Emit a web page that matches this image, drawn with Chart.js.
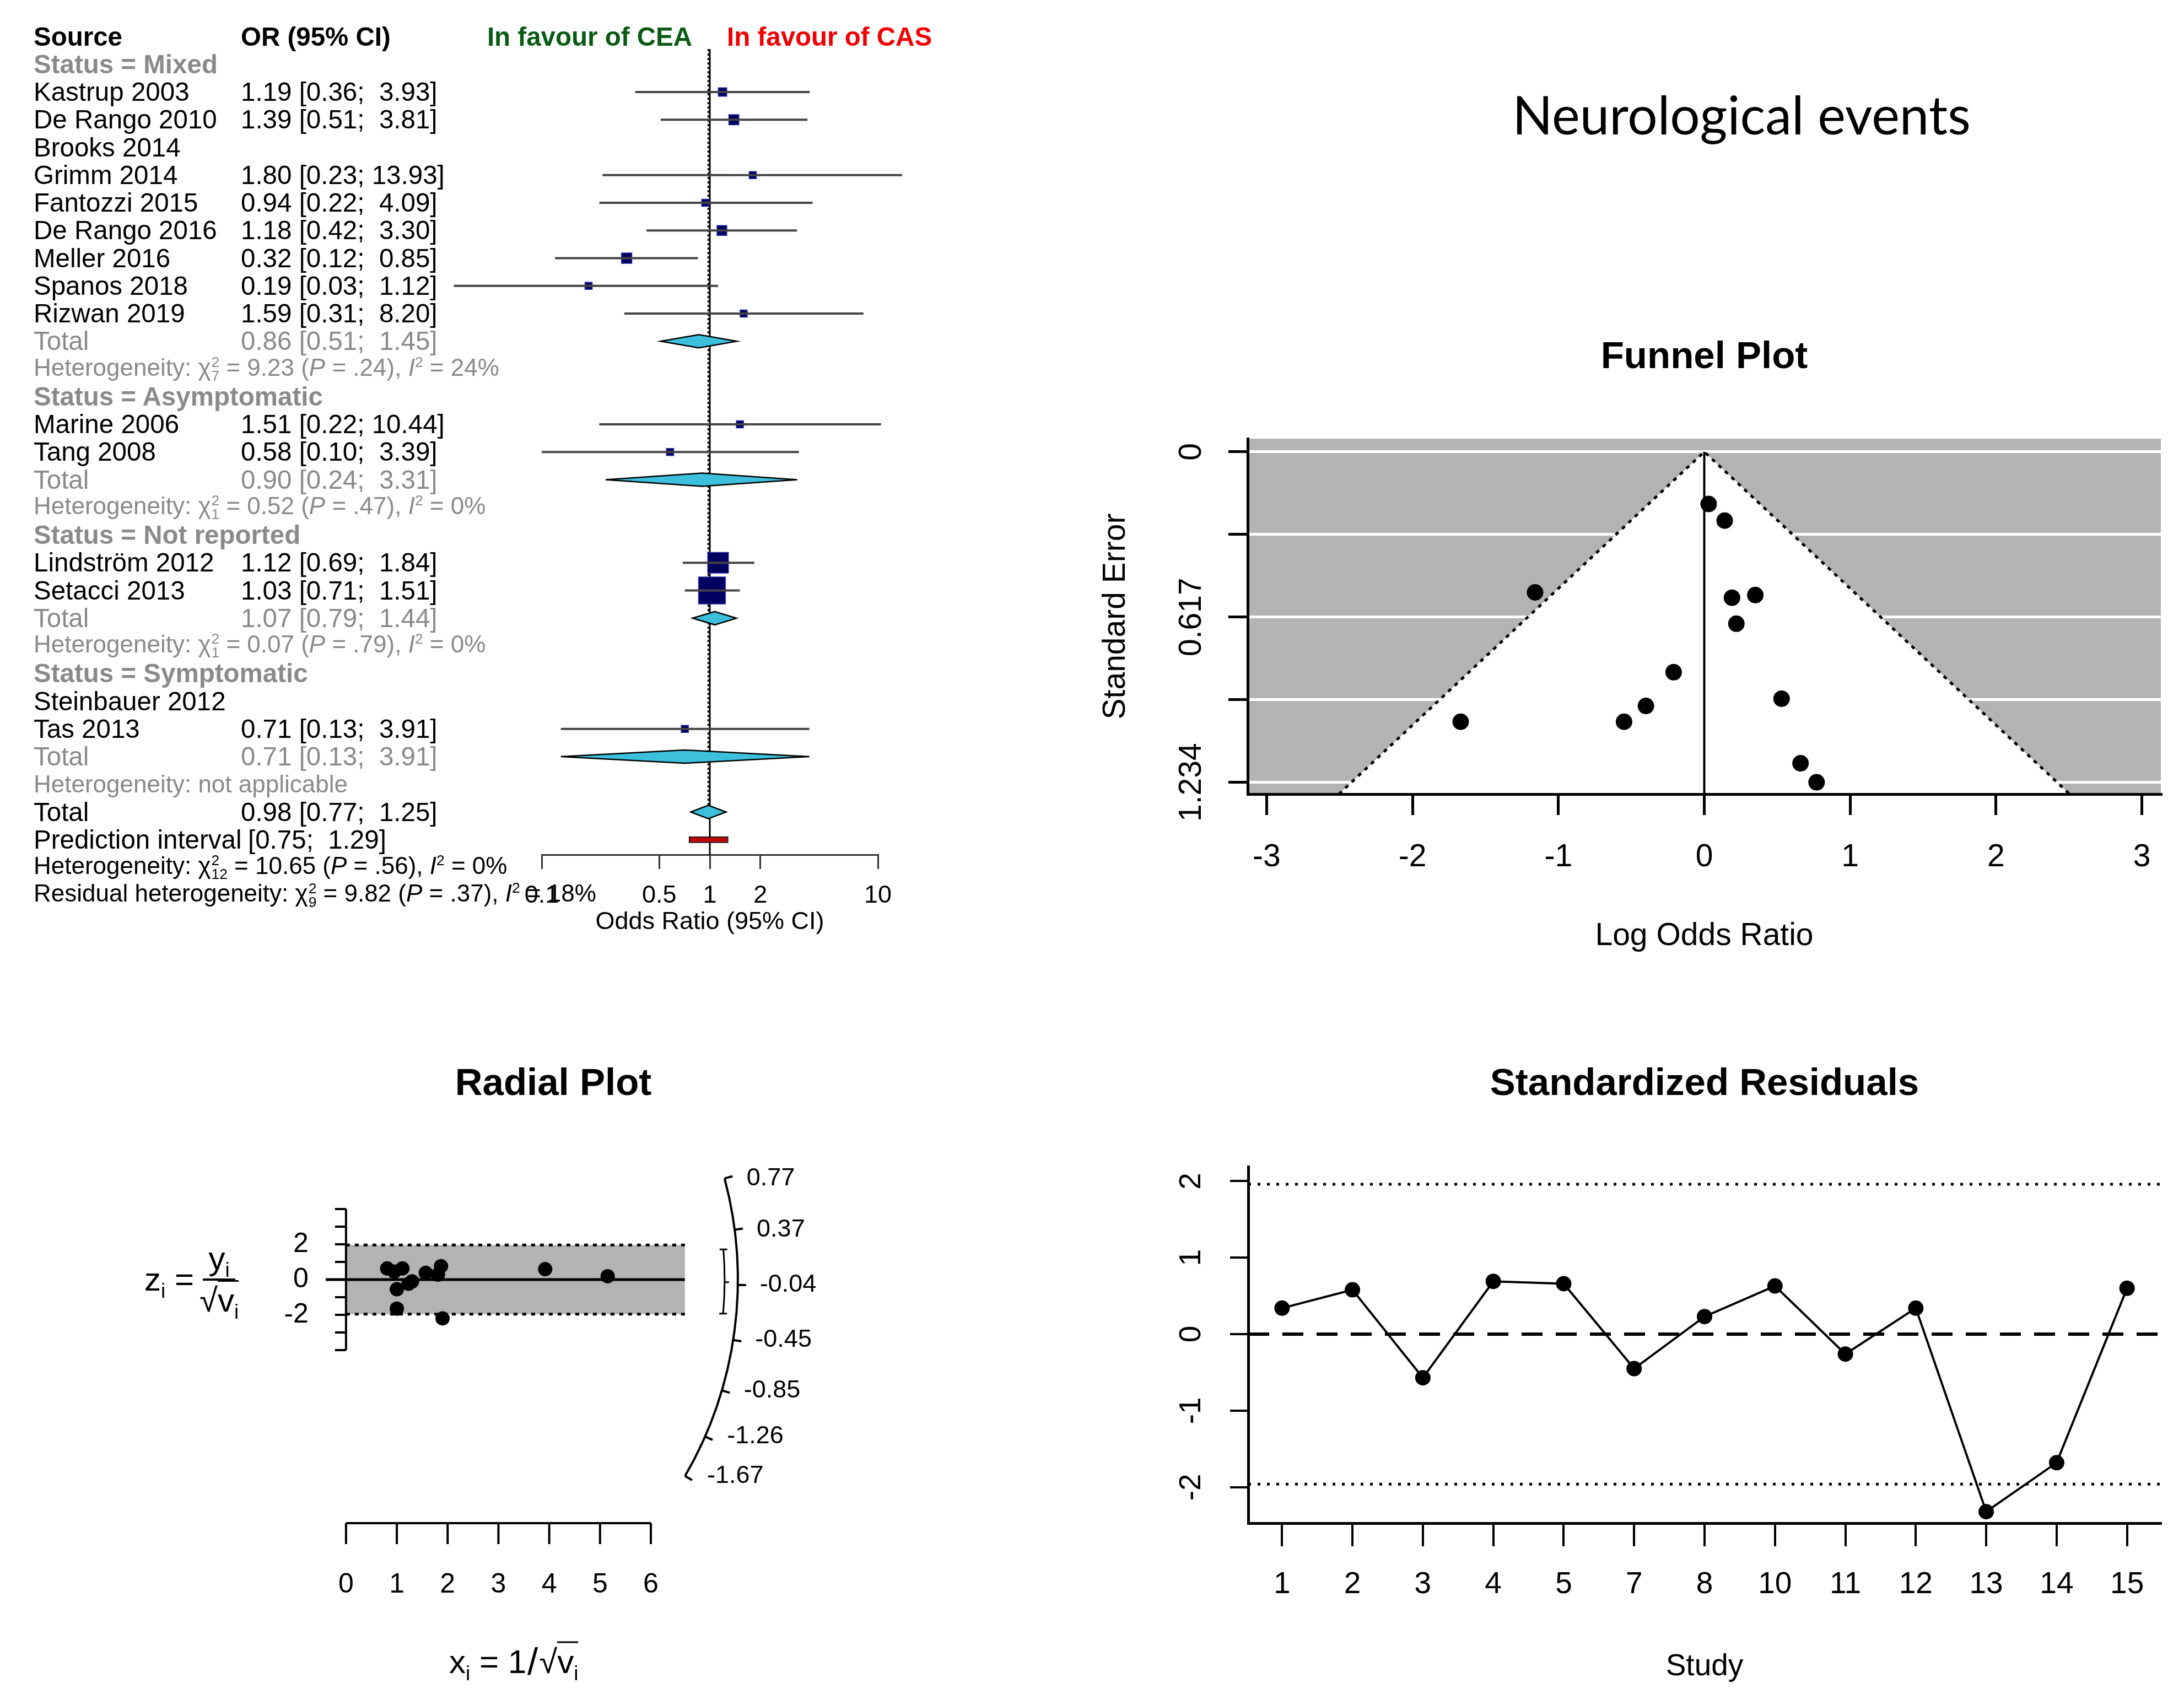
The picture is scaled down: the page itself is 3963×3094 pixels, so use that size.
<!DOCTYPE html>
<html>
<head>
<meta charset="utf-8">
<title>Neurological events</title>
<script src="https://cdn.jsdelivr.net/npm/chart.js@4.4.0/dist/chart.umd.min.js"></script>
<style>
  html, body { margin: 0; padding: 0; background: #fff; }
  #page { position: relative; width: 3963px; height: 3094px; overflow: hidden;
          font-family: 'Liberation Sans', Arial, sans-serif; color: #000; }
  canvas { position: absolute; }
  .txt { position: absolute; white-space: pre; line-height: 1; transform: translateY(-50%); font-size: 47.5px; }
  .bold { font-weight: bold; }
  .gray { color: #8a8a8a; }
  .het { font-size: 44px; }
  .ss { display: inline-flex; flex-direction: column; font-size: 0.6em; line-height: 0.95; vertical-align: middle; margin-left: 1px; }
  .txt sup { font-size: 0.6em; line-height: 0; }
  .math { position: absolute; transform: translateY(-50%); display: flex; align-items: center;
          font-size: 60px; line-height: 1; white-space: nowrap; }
  .math sub { font-size: 0.62em; line-height: 0; }
  .frac { display: inline-flex; flex-direction: column; align-items: center; margin-left: 10px; }
  .num { border-bottom: 4px solid #000; padding: 0 10px 6px; }
  .den { padding-top: 6px; }
  .ov { border-top: 3px solid #000; }
  #title { position: absolute; left: 3160px; top: 206px; transform: translate(-50%, -50%);
           font-family: Lato, 'Open Sans', sans-serif; font-size: 96px; white-space: nowrap; }
</style>
</head>
<body>
<div id="page">
  <div id="title">Neurological events</div>
  <canvas id="forest" width="1950" height="1720" style="left:0;top:0;width:1950px;height:1720px"></canvas>
  <canvas id="funnel" width="2013" height="1200" style="left:1950px;top:560px;width:2013px;height:1200px"></canvas>
  <canvas id="radial" width="1950" height="1214" style="left:0;top:1880px;width:1950px;height:1214px"></canvas>
  <canvas id="resid" width="2013" height="1214" style="left:1950px;top:1880px;width:2013px;height:1214px"></canvas>
</div>
<script>
// ---- forest plot data (row 0 is the header, rows count downwards) ----
const studyNames = ['Kastrup 2003', 'De Rango 2010', 'Grimm 2014', 'Fantozzi 2015', 'De Rango 2016',
    'Meller 2016', 'Spanos 2018', 'Rizwan 2019', 'Marine 2006', 'Tang 2008',
    'Lindström 2012', 'Setacci 2013', 'Tas 2013'];
const studyRows = [2, 3, 5, 6, 7, 8, 9, 10, 14, 15, 19, 20, 25];
const studyOR = [1.19, 1.39, 1.80, 0.94, 1.18, 0.32, 0.19, 1.59, 1.51, 0.58, 1.12, 1.03, 0.71];
const studyLo = [0.36, 0.51, 0.23, 0.22, 0.42, 0.12, 0.03, 0.31, 0.22, 0.10, 0.69, 0.71, 0.13];
const studyHi = [3.93, 3.81, 13.93, 4.09, 3.30, 0.85, 1.12, 8.20, 10.44, 3.39, 1.84, 1.51, 3.91];
const studyWeights = [3.9, 5.5, 1.3, 2.6, 5.2, 5.8, 1.7, 2.1, 1.5, 1.8, 23.2, 39.1, 1.9];

const emptyStudies = ['Brooks 2014', 'Steinbauer 2012'];
const emptyRows = [4, 24];

const groupNames = ['Status = Mixed', 'Status = Asymptomatic', 'Status = Not reported', 'Status = Symptomatic'];
const groupRows = [1, 13, 18, 23];

const totalRows = [11, 16, 21, 26, 28];
const totalOR = [0.86, 0.90, 1.07, 0.71, 0.98];
const totalLo = [0.51, 0.24, 0.79, 0.13, 0.77];
const totalHi = [1.45, 3.31, 1.44, 3.91, 1.25];

const predRow = 29;
const predInterval = [0.75, 1.29];

const hetRows = [12, 17, 22, 27, 30, 31];
const hetPrefix = ['Heterogeneity', 'Heterogeneity', 'Heterogeneity', 'Heterogeneity',
    'Heterogeneity', 'Residual heterogeneity'];
const hetChi2 = [9.23, 0.52, 0.07, null, 10.65, 9.82];
const hetDf = [7, 1, 1, null, 12, 9];
const hetP = ['.24', '.47', '.79', null, '.56', '.37'];
const hetI2 = [24, 0, 0, null, 0, 18];

const orTicks = [0.1, 0.5, 1, 2, 10];
const orTickLabels = ['0.1', '0.5', '1', '2', '10'];

// ---- funnel plot ----
const funnelLogOR = [0.03, 0.14, -1.16, 0.19, 0.35, 0.22, -0.21, 0.53, -0.40, -0.55, -1.67, 0.66, 0.77];
const funnelSE = [0.195, 0.257, 0.525, 0.545, 0.535, 0.642, 0.823, 0.922, 0.949, 1.008, 1.008, 1.163, 1.234];
const funnelXTicks = [-3, -2, -1, 0, 1, 2, 3];
const funnelSeTicks = [0, 0.3085, 0.617, 0.9255, 1.234];
const funnelSeLabels = ['0', '', '0.617', '', '1.234'];

// ---- radial plot ----
const radialX = [0.81, 0.95, 1.11, 1.00, 1.30, 1.23, 1.00, 1.57, 1.87, 1.81, 1.90, 3.92, 5.15];
const radialZ = [0.63, 0.45, 0.63, -0.55, -0.10, -0.24, -1.65, 0.38, 0.76, 0.28, -2.20, 0.59, 0.19];
const radialXTicks = [0, 1, 2, 3, 4, 5, 6];
const radialYTicks = [-4, -3, -2, -1, 0, 1, 2, 3, 4];
const radialYLabels = ['', '', '-2', '', '0', '', '2', '', ''];
const radialArcTicks = [0.77, 0.37, -0.04, -0.45, -0.85, -1.26, -1.67];
const radialSummary = [-0.26, -0.02, 0.23];   // lower, estimate, upper

// ---- standardized residuals ----
const residStudies = ['1', '2', '3', '4', '5', '7', '8', '10', '11', '12', '13', '14', '15'];
const residValues = [0.34, 0.58, -0.57, 0.69, 0.66, -0.45, 0.23, 0.63, -0.26, 0.34, -2.32, -1.68, 0.60];
const residRefLines = [-1.96, 0, 1.96];

Chart.defaults.font.family = "'Liberation Sans', Arial, sans-serif";
Chart.defaults.color = '#000';

const FONT = "'Liberation Sans', Arial, sans-serif";
const page = document.getElementById('page');

function baseOptions() {
    return {
        responsive: false,
        animation: false,
        devicePixelRatio: 1,
        events: [],
        plugins: { legend: { display: false }, tooltip: { enabled: false } }
    };
}

// rotated (R style) y tick labels
function rotatedYLabels(values, labels, xPos, size) {
    return {
        id: 'rotatedYLabels',
        afterDraw(chart) {
            const { ctx } = chart;
            const y = chart.scales.y;
            ctx.save();
            ctx.font = size + 'px ' + FONT;
            ctx.fillStyle = '#000';
            ctx.textAlign = 'center';
            ctx.textBaseline = 'middle';
            values.forEach((v, i) => {
                if (!labels[i]) return;
                ctx.save();
                ctx.translate(xPos, y.getPixelForValue(v));
                ctx.rotate(-Math.PI / 2);
                ctx.fillText(labels[i], 0, 0);
                ctx.restore();
            });
            ctx.restore();
        }
    };
}

/**
 * Forest plot
 */
const boxSide = w => Math.max(13, 7.8 * Math.sqrt(w));

const forestMarks = {
    id: 'forestMarks',
    beforeDatasetsDraw(chart) {
        const { ctx, scales: { x, y } } = chart;
        ctx.save();
        // line of no effect
        ctx.strokeStyle = '#000';
        ctx.lineWidth = 3;
        ctx.beginPath();
        ctx.moveTo(x.getPixelForValue(1), y.getPixelForValue(0.45));
        ctx.lineTo(x.getPixelForValue(1), chart.chartArea.bottom);
        ctx.stroke();
        // pooled estimate
        const px = x.getPixelForValue(totalOR[4]);
        ctx.setLineDash([4, 4]);
        ctx.lineWidth = 3;
        ctx.beginPath();
        ctx.moveTo(px, y.getPixelForValue(0.45));
        ctx.lineTo(px, y.getPixelForValue(totalRows[4] - 0.25));
        ctx.stroke();
        ctx.restore();
    },
    afterDatasetsDraw(chart) {
        const { ctx, scales: { x, y } } = chart;
        ctx.save();
        ctx.fillStyle = '#3cc0dc';
        ctx.strokeStyle = '#000';
        ctx.lineWidth = 2.5;
        totalRows.forEach((r, i) => {
            const yc = y.getPixelForValue(r);
            const h = Math.abs(y.getPixelForValue(r + 0.24) - yc);
            ctx.beginPath();
            ctx.moveTo(x.getPixelForValue(totalLo[i]), yc);
            ctx.lineTo(x.getPixelForValue(totalOR[i]), yc - h);
            ctx.lineTo(x.getPixelForValue(totalHi[i]), yc);
            ctx.lineTo(x.getPixelForValue(totalOR[i]), yc + h);
            ctx.closePath();
            ctx.fill();
            ctx.stroke();
        });
        ctx.restore();
    }
};

const forestChart = new Chart(document.getElementById('forest'), {
    data: {
        datasets: [{
            type: 'bar',
            indexAxis: 'y',
            grouped: false,
            data: studyRows.map((r, i) => ({ y: r, x: [studyLo[i], studyHi[i]] })),
            backgroundColor: '#444',
            maxBarThickness: 4,
            clip: false
        }, {
            type: 'bar',
            indexAxis: 'y',
            grouped: false,
            data: [{ y: predRow, x: predInterval }],
            backgroundColor: '#c00000',
            borderColor: '#000',
            borderWidth: 2,
            borderSkipped: false,
            maxBarThickness: 12,
            clip: false
        }, {
            type: 'scatter',
            data: studyRows.map((r, i) => ({ x: studyOR[i], y: r })),
            pointStyle: 'rect',
            pointRadius: ctx => boxSide(studyWeights[ctx.dataIndex]) / Math.SQRT2,
            backgroundColor: '#00005e',
            borderColor: '#2a2aa8',
            borderWidth: 1.5,
            clip: false
        }]
    },
    options: Object.assign(baseOptions(), {
        layout: { autoPadding: false, padding: { left: 983, right: 357, top: 16.25, bottom: 0 } },
        scales: {
            x: {
                type: 'logarithmic',
                position: 'bottom',
                min: 0.1,
                max: 10,
                afterBuildTicks: s => { s.ticks = orTicks.map(v => ({ value: v })); },
                afterFit: s => { s.height = 169; },
                ticks: {
                    callback: (v, i) => orTickLabels[i],
                    font: { size: 45 },
                    color: '#000',
                    padding: 22,
                    autoSkip: false,
                    maxRotation: 0,
                    minRotation: 0
                },
                grid: { drawOnChartArea: false, tickLength: 26, color: '#333', lineWidth: 3 },
                border: { display: true, color: '#333', width: 3 },
                title: {
                    display: true,
                    text: 'Odds Ratio (95% CI)',
                    font: { size: 45 },
                    color: '#000',
                    padding: { top: 0, bottom: 19 }
                }
            },
            y: {
                type: 'linear',
                reverse: true,
                offset: false,
                min: -1,
                max: 29.542,
                display: false
            }
        }
    }),
    plugins: [forestMarks]
});

// forest text columns placed on the chart's row scale
function addText(html, x, y, cls, alignRight) {
    const d = document.createElement('div');
    d.className = 'txt ' + (cls || '');
    d.innerHTML = html;
    d.style.top = y + 'px';
    if (alignRight) {
        d.style.right = (3963 - x) + 'px';
    } else {
        d.style.left = x + 'px';
    }
    page.appendChild(d);
}

const fmtCI = (est, lo, hi) =>
    (est === null ? '' : est.toFixed(2) + ' ') + '[' + lo.toFixed(2) + '; ' + (hi < 10 ? ' ' : '') + hi.toFixed(2) + ']';
const chiSym = df => 'χ<span class="ss"><span>2</span><span>' + df + '</span></span>';

(function buildForestText() {
    const fy = forestChart.scales.y;
    const fx = forestChart.scales.x;
    const rowY = r => fy.getPixelForValue(r);
    const colName = 61, colCI = 437;

    addText('Source', colName, rowY(0), 'bold');
    addText('OR (95% CI)', colCI, rowY(0), 'bold');
    addText('<span style="color:#0a5a14">In favour of CEA</span>', fx.getPixelForValue(1) - 32, rowY(0), 'bold', true);
    addText('<span style="color:#f00000">In favour of CAS</span>', fx.getPixelForValue(1) + 31, rowY(0), 'bold');

    groupNames.forEach((g, i) => addText(g, colName, rowY(groupRows[i]), 'bold gray'));

    studyNames.forEach((s, i) => {
        addText(s, colName, rowY(studyRows[i]));
        addText(fmtCI(studyOR[i], studyLo[i], studyHi[i]), colCI, rowY(studyRows[i]));
    });
    emptyStudies.forEach((s, i) => addText(s, colName, rowY(emptyRows[i])));

    totalRows.forEach((r, i) => {
        const cls = i < 4 ? 'gray' : '';
        addText('Total', colName, rowY(r), cls);
        addText(fmtCI(totalOR[i], totalLo[i], totalHi[i]), colCI, rowY(r), cls);
    });

    addText('Prediction interval', colName, rowY(predRow));
    addText(fmtCI(null, predInterval[0], predInterval[1]), 450, rowY(predRow));

    hetRows.forEach((r, i) => {
        let html = hetPrefix[i] + ': ';
        if (hetChi2[i] === null) {
            html += 'not applicable';
        } else {
            html += chiSym(hetDf[i]) + ' = ' + hetChi2[i].toFixed(2) + ' (<i>P</i> = ' + hetP[i] +
                '), <i>I</i><sup>2</sup> = ' + hetI2[i] + '%';
        }
        addText(html, colName, rowY(r), 'het' + (i < 4 ? ' gray' : ''));
    });
})();

/**
 * Funnel plot
 */
const funnelShade = {
    id: 'funnelShade',
    beforeDraw(chart) {
        const { ctx, chartArea: a, scales: { x, y } } = chart;
        ctx.save();
        ctx.fillStyle = '#b3b3b3';
        ctx.fillRect(a.left, a.top, a.right - a.left, a.bottom - a.top);
        const seMax = y.max;
        ctx.fillStyle = '#fff';
        ctx.beginPath();
        ctx.moveTo(x.getPixelForValue(0), y.getPixelForValue(0));
        ctx.lineTo(x.getPixelForValue(-1.96 * seMax), y.getPixelForValue(seMax));
        ctx.lineTo(x.getPixelForValue(1.96 * seMax), y.getPixelForValue(seMax));
        ctx.closePath();
        ctx.fill();
        ctx.restore();
    },
    beforeDatasetsDraw(chart) {
        const { ctx, scales: { x, y } } = chart;
        const seMax = y.max;
        ctx.save();
        ctx.strokeStyle = '#000';
        ctx.lineWidth = 5;
        ctx.setLineDash([7, 9]);
        ctx.beginPath();
        ctx.moveTo(x.getPixelForValue(-1.96 * seMax), y.getPixelForValue(seMax));
        ctx.lineTo(x.getPixelForValue(0), y.getPixelForValue(0));
        ctx.lineTo(x.getPixelForValue(1.96 * seMax), y.getPixelForValue(seMax));
        ctx.stroke();
        ctx.setLineDash([]);
        ctx.lineWidth = 4;
        ctx.beginPath();
        ctx.moveTo(x.getPixelForValue(0), y.getPixelForValue(0));
        ctx.lineTo(x.getPixelForValue(0), y.getPixelForValue(seMax));
        ctx.stroke();
        ctx.restore();
    }
};

new Chart(document.getElementById('funnel'), {
    type: 'scatter',
    data: {
        datasets: [{
            data: funnelLogOR.map((v, i) => ({ x: v, y: funnelSE[i] })),
            pointRadius: 15,
            backgroundColor: '#000',
            borderWidth: 0
        }]
    },
    options: Object.assign(baseOptions(), {
        layout: { autoPadding: false, padding: { left: 0, right: 42, top: 0, bottom: 0 } },
        plugins: {
            legend: { display: false },
            tooltip: { enabled: false },
            title: {
                display: true,
                text: 'Funnel Plot',
                fullSize: false,
                color: '#000',
                font: { size: 69, weight: 'bold' },
                padding: { top: 47.6, bottom: 105.6 }
            }
        },
        scales: {
            x: {
                type: 'linear',
                min: -3.13,
                max: 3.13,
                afterBuildTicks: s => { s.ticks = funnelXTicks.map(v => ({ value: v })); },
                afterFit: s => { s.height = 319; },
                ticks: { font: { size: 57 }, color: '#000', padding: 43, maxRotation: 0 },
                grid: { drawOnChartArea: false, tickLength: 38, color: '#000', lineWidth: 5 },
                border: { color: '#000', width: 5 },
                title: {
                    display: true,
                    text: 'Log Odds Ratio',
                    font: { size: 57 },
                    color: '#000',
                    padding: { top: 0, bottom: 27 }
                }
            },
            y: {
                type: 'linear',
                reverse: true,
                min: -0.049,
                max: 1.278,
                afterBuildTicks: s => { s.ticks = funnelSeTicks.map(v => ({ value: v })); },
                afterFit: s => { s.width = 314; },
                ticks: { display: false },
                grid: { color: '#fff', lineWidth: 5, tickColor: '#000', tickLength: 35 },
                border: { color: '#000', width: 5 },
                title: {
                    display: true,
                    text: 'Standard Error',
                    font: { size: 57 },
                    color: '#000',
                    padding: { top: 41, bottom: 0 }
                }
            }
        }
    }),
    plugins: [funnelShade, rotatedYLabels(funnelSeTicks, funnelSeLabels, 213, 57)]
});

/**
 * Radial plot
 */
const arcRadius = 711;

const radialAxes = {
    id: 'radialAxes',
    beforeDatasetsDraw(chart) {
        const { ctx, chartArea: a, scales: { x, y } } = chart;
        const x0 = x.getPixelForValue(0), y0 = y.getPixelForValue(0);
        const bandEnd = x.getPixelForValue(6.67);
        ctx.save();

        // +/- 1.96 band
        ctx.fillStyle = '#b3b3b3';
        ctx.fillRect(x0, y.getPixelForValue(1.96), bandEnd - x0, y.getPixelForValue(-1.96) - y.getPixelForValue(1.96));
        ctx.strokeStyle = '#000';
        ctx.lineWidth = 5;
        ctx.setLineDash([7, 9]);
        [1.96, -1.96].forEach(v => {
            ctx.beginPath();
            ctx.moveTo(x0, y.getPixelForValue(v));
            ctx.lineTo(bandEnd, y.getPixelForValue(v));
            ctx.stroke();
        });
        ctx.setLineDash([]);
        ctx.beginPath();
        ctx.moveTo(a.left, y0);
        ctx.lineTo(bandEnd, y0);
        ctx.stroke();

        // y axis
        ctx.lineWidth = 4;
        ctx.beginPath();
        ctx.moveTo(x0, y.getPixelForValue(radialYTicks[0]));
        ctx.lineTo(x0, y.getPixelForValue(radialYTicks[radialYTicks.length - 1]));
        radialYTicks.forEach(v => {
            ctx.moveTo(x0, y.getPixelForValue(v));
            ctx.lineTo(x0 - 20, y.getPixelForValue(v));
        });
        ctx.stroke();
        ctx.font = '50px ' + FONT;
        ctx.fillStyle = '#000';
        ctx.textAlign = 'right';
        ctx.textBaseline = 'middle';
        radialYTicks.forEach((v, i) => {
            if (radialYLabels[i]) ctx.fillText(radialYLabels[i], x0 - 68, y.getPixelForValue(v));
        });

        // x axis at the bottom of the plot region
        const yb = a.bottom;
        ctx.beginPath();
        ctx.moveTo(x.getPixelForValue(radialXTicks[0]), yb);
        ctx.lineTo(x.getPixelForValue(radialXTicks[radialXTicks.length - 1]), yb);
        radialXTicks.forEach(v => {
            ctx.moveTo(x.getPixelForValue(v), yb);
            ctx.lineTo(x.getPixelForValue(v), yb + 38);
        });
        ctx.stroke();
        ctx.textAlign = 'center';
        radialXTicks.forEach(v => ctx.fillText(String(v), x.getPixelForValue(v), yb + 112));

        // arc scale with the effect sizes
        const ux = x.getPixelForValue(1) - x0;
        const uy = y0 - y.getPixelForValue(1);
        const ang = v => Math.atan2(v * uy, ux);
        const pt = (v, r) => [x0 + r * Math.cos(ang(v)), y0 - r * Math.sin(ang(v))];
        const top = radialArcTicks[0], bot = radialArcTicks[radialArcTicks.length - 1];
        ctx.lineWidth = 4;
        ctx.beginPath();
        ctx.arc(x0, y0, arcRadius, -ang(top), -ang(bot), false);
        ctx.stroke();
        ctx.beginPath();
        radialArcTicks.forEach(v => {
            const p1 = pt(v, arcRadius), p2 = pt(v, arcRadius + 15);
            ctx.moveTo(p1[0], p1[1]);
            ctx.lineTo(p2[0], p2[1]);
        });
        ctx.stroke();
        ctx.font = '45px ' + FONT;
        ctx.textAlign = 'left';
        radialArcTicks.forEach(v => {
            const p = pt(v, arcRadius);
            ctx.fillText(v.toFixed(2), p[0] + 40, p[1]);
        });

        // summary estimate with its confidence interval
        const rIn = arcRadius - 24;
        ctx.lineWidth = 3;
        ctx.beginPath();
        ctx.arc(x0, y0, rIn, -ang(radialSummary[2]), -ang(radialSummary[0]), false);
        [radialSummary[0], radialSummary[2]].forEach(v => {
            const p = pt(v, rIn);
            ctx.moveTo(p[0] - 7, p[1]);
            ctx.lineTo(p[0] + 7, p[1]);
        });
        const pe = pt(radialSummary[1], rIn);
        ctx.moveTo(pe[0], pe[1]);
        ctx.lineTo(pe[0] + 8, pe[1]);
        ctx.stroke();
        ctx.restore();
    }
};

new Chart(document.getElementById('radial'), {
    type: 'scatter',
    data: {
        datasets: [{
            data: radialX.map((v, i) => ({ x: v, y: radialZ[i] })),
            pointRadius: 13,
            backgroundColor: '#000',
            borderWidth: 0,
            clip: false
        }]
    },
    options: Object.assign(baseOptions(), {
        layout: { autoPadding: false, padding: { left: 591, right: 533, top: 0, bottom: 330 } },
        plugins: {
            legend: { display: false },
            tooltip: { enabled: false },
            title: {
                display: true,
                text: 'Radial Plot',
                fullSize: false,
                color: '#000',
                font: { size: 69, weight: 'bold' },
                padding: { top: 46.6, bottom: 120.6 }
            }
        },
        scales: {
            x: { type: 'linear', min: -0.4, max: 8.56, display: false },
            y: { type: 'linear', min: -13.8125, max: 6, display: false }
        }
    }),
    plugins: [radialAxes]
});

/**
 * Standardized residuals
 */
const residLines = {
    id: 'residLines',
    beforeDatasetsDraw(chart) {
        const { ctx, chartArea: a, scales: { y } } = chart;
        ctx.save();
        ctx.strokeStyle = '#000';
        residRefLines.forEach(v => {
            if (v === 0) {
                ctx.lineWidth = 6;
                ctx.setLineDash([38, 24]);
            } else {
                ctx.lineWidth = 5;
                ctx.setLineDash([5, 12]);
            }
            ctx.beginPath();
            ctx.moveTo(a.left, y.getPixelForValue(v));
            ctx.lineTo(a.right, y.getPixelForValue(v));
            ctx.stroke();
        });
        ctx.restore();
    }
};

new Chart(document.getElementById('resid'), {
    type: 'line',
    data: {
        datasets: [{
            data: residValues.map((v, i) => ({ x: i, y: v })),
            borderColor: '#000',
            borderWidth: 4,
            pointRadius: 14,
            pointBackgroundColor: '#000',
            pointBorderWidth: 0,
            tension: 0,
            clip: false
        }]
    },
    options: Object.assign(baseOptions(), {
        layout: { autoPadding: false, padding: { left: 0, right: 42, top: 0, bottom: 0 } },
        plugins: {
            legend: { display: false },
            tooltip: { enabled: false },
            title: {
                display: true,
                text: 'Standardized Residuals',
                fullSize: false,
                color: '#000',
                font: { size: 69, weight: 'bold' },
                padding: { top: 46.6, bottom: 107.6 }
            }
        },
        scales: {
            x: {
                type: 'linear',
                min: -0.48,
                max: 12.48,
                afterBuildTicks: s => { s.ticks = residStudies.map((_, i) => ({ value: i })); },
                afterFit: s => { s.height = 330; },
                ticks: {
                    callback: v => residStudies[v],
                    font: { size: 55 },
                    color: '#000',
                    padding: 37,
                    autoSkip: false,
                    maxRotation: 0
                },
                grid: { drawOnChartArea: false, tickLength: 42, color: '#000', lineWidth: 4 },
                border: { color: '#000', width: 5 },
                title: {
                    display: true,
                    text: 'Study',
                    font: { size: 55 },
                    color: '#000',
                    padding: { top: 0, bottom: 36 }
                }
            },
            y: {
                type: 'linear',
                min: -2.47,
                max: 2.19,
                afterBuildTicks: s => { s.ticks = [-2, -1, 0, 1, 2].map(v => ({ value: v })); },
                afterFit: s => { s.width = 315; },
                ticks: { display: false },
                grid: { drawOnChartArea: false, tickLength: 33, color: '#000', lineWidth: 4 },
                border: { color: '#000', width: 5 }
            }
        }
    }),
    plugins: [residLines, rotatedYLabels([-2, -1, 0, 1, 2], ['-2', '-1', '0', '1', '2'], 213, 55)]
});

// radial plot axis formulas
(function radialLabels() {
    const z = document.createElement('div');
    z.className = 'math';
    z.style.left = '262px';
    z.style.top = '2322px';
    z.innerHTML = '<span>z<sub>i</sub> =</span><span class="frac"><span class="num">y<sub>i</sub></span>' +
        '<span class="den">√<span class="ov">v<sub>i</sub></span></span></span>';
    page.appendChild(z);

    const xl = document.createElement('div');
    xl.className = 'math';
    xl.style.left = '815px';
    xl.style.top = '3015px';
    xl.innerHTML = '<span>x<sub>i</sub> = 1</span><span style="font-size:1.15em;margin:0 2px">/</span>' +
        '<span>√<span class="ov">v<sub>i</sub></span></span>';
    page.appendChild(xl);
})();
</script>
</body>
</html>
